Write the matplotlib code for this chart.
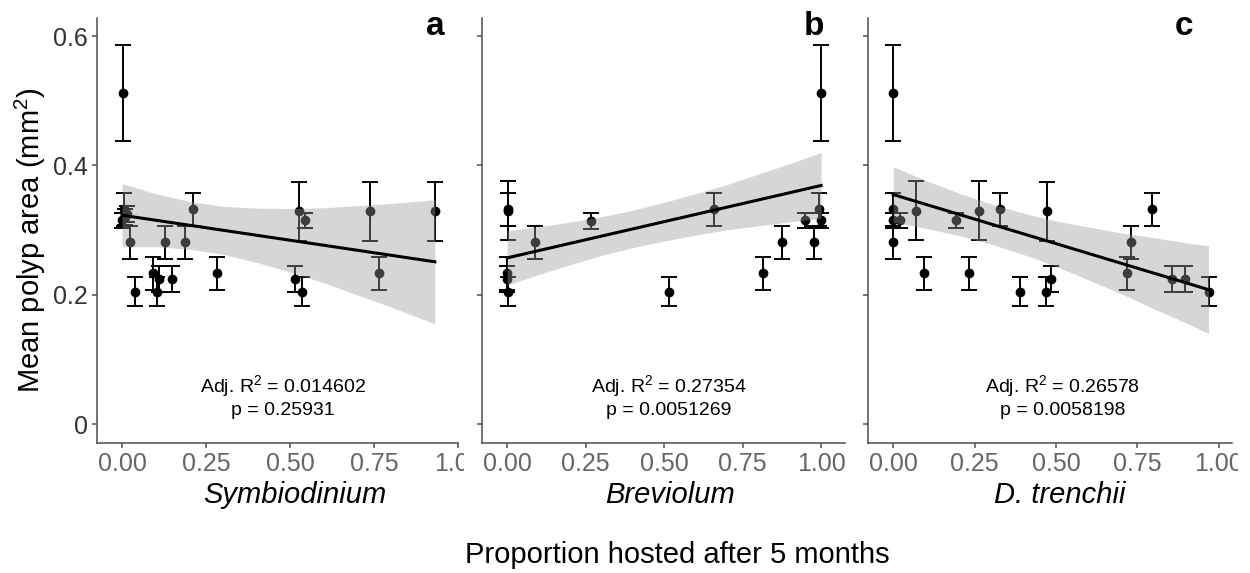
import numpy as np
import matplotlib
matplotlib.use("Agg")
import matplotlib.pyplot as plt
from matplotlib.transforms import Bbox

plt.rcParams['font.family'] = ['Liberation Sans', 'DejaVu Sans']
plt.rcParams['mathtext.fontset'] = 'custom'
plt.rcParams['mathtext.rm'] = 'Liberation Sans'
plt.rcParams['mathtext.it'] = 'Liberation Sans:italic'

# ---- panel a: Symbiodinium ----
x_a = [0.002, 0.005, 0.010, 0.000, 0.015, 0.024, 0.039, 0.091, 0.104, 0.110, 0.127,
       0.148, 0.187, 0.212, 0.283, 0.515, 0.528, 0.535, 0.544, 0.737, 0.766, 0.931]
y_a = [0.512, 0.332, 0.320, 0.315, 0.325, 0.281, 0.205, 0.233, 0.205, 0.225, 0.281,
       0.225, 0.281, 0.332, 0.233, 0.225, 0.329, 0.205, 0.315, 0.329, 0.233, 0.329]
e_a = [0.074, 0.025, 0.012, 0.012, 0.012, 0.026, 0.022, 0.026, 0.022, 0.020, 0.026,
       0.020, 0.026, 0.025, 0.026, 0.020, 0.046, 0.022, 0.012, 0.046, 0.026, 0.046]
fit_a = (0.323, -0.0774)
band_x_a = [0, 0.1, 0.2, 0.3, 0.4, 0.5, 0.6, 0.7, 0.8, 0.931]
band_hw_a = [0.049, 0.041, 0.037, 0.037, 0.042, 0.049, 0.058, 0.069, 0.080, 0.096]

# ---- panel b: Breviolum ----
x_b = [0.002, 0.002, 0.000, 0.000, 0.002, 0.088, 0.266, 0.514, 0.658, 0.814, 0.874,
       0.949, 0.978, 0.994, 0.999, 0.999]
y_b = [0.330, 0.332, 0.233, 0.225, 0.205, 0.281, 0.314, 0.205, 0.332, 0.233, 0.281,
       0.315, 0.281, 0.332, 0.315, 0.512]
e_b = [0.046, 0.025, 0.026, 0.020, 0.022, 0.026, 0.012, 0.022, 0.025, 0.026, 0.026,
       0.012, 0.026, 0.025, 0.012, 0.074]
fit_b = (0.257, 0.112)
band_x_b = [0, 0.1, 0.2, 0.3, 0.4, 0.5, 0.6, 0.7, 0.8, 0.9, 1.0]
band_hw_b = [0.042, 0.037, 0.033, 0.030, 0.029, 0.030, 0.032, 0.035, 0.040, 0.045, 0.051]

# ---- panel c: D. trenchii ----
x_c = [0.000, 0.000, 0.000, 0.022, 0.000, 0.071, 0.096, 0.194, 0.232, 0.263, 0.329,
       0.388, 0.468, 0.473, 0.486, 0.717, 0.729, 0.794, 0.857, 0.896, 0.968]
y_c = [0.512, 0.332, 0.315, 0.315, 0.281, 0.330, 0.233, 0.315, 0.233, 0.330, 0.332,
       0.205, 0.205, 0.329, 0.225, 0.233, 0.281, 0.332, 0.225, 0.225, 0.205]
e_c = [0.074, 0.025, 0.012, 0.012, 0.026, 0.046, 0.026, 0.012, 0.026, 0.046, 0.025,
       0.022, 0.022, 0.046, 0.020, 0.026, 0.026, 0.025, 0.020, 0.020, 0.022]
fit_c = (0.355, -0.152)
band_x_c = [0, 0.1, 0.2, 0.3, 0.4, 0.5, 0.6, 0.7, 0.8, 0.9, 0.968]
band_hw_c = [0.043, 0.037, 0.033, 0.031, 0.032, 0.035, 0.041, 0.047, 0.055, 0.062, 0.068]

species = ['Symbiodinium', 'Breviolum', 'D. trenchii']
panel_letters = ['a', 'b', 'c']
adj_r2 = ['0.014602', '0.27354', '0.26578']
p_vals = ['0.25931', '0.0051269', '0.0058198']
x_ticks = [0, 0.25, 0.5, 0.75, 1.0]
x_ticklabels = ['0.00', '0.25', '0.50', '0.75', '1.00']
y_ticks = [0, 0.2, 0.4, 0.6]
y_ticklabels = ['0', '0.2', '0.4', '0.6']

W, H = 1250, 573
fig = plt.figure(figsize=(W / 100, H / 100), dpi=100)

AX_TOP, AX_BOTTOM = 18, 443
panels_px = [(97, 458), (482, 845), (868, 1232)]
xlims = [(-0.0744, 1.0), (-0.080, 1.076), (-0.077, 1.040)]
stat_x = [0.48, 0.516, 0.52]
letter_px = [435, 814, 1184]
species_px = [295, 670, 1060]
# the last tick label of a and c is cut off in the original
clip_right = [464, 850, 1238]

data = [(x_a, y_a, e_a, fit_a, band_x_a, band_hw_a),
        (x_b, y_b, e_b, fit_b, band_x_b, band_hw_b),
        (x_c, y_c, e_c, fit_c, band_x_c, band_hw_c)]

for i, (x, y, e, fit, bx, bhw) in enumerate(data):
    left, right = panels_px[i]
    ax = fig.add_axes([left / W, 1 - AX_BOTTOM / H, (right - left) / W, (AX_BOTTOM - AX_TOP) / H])

    ax.errorbar(x, y, yerr=e, fmt='o', color='black', ms=6, elinewidth=1.4,
                capsize=6, capthick=1.4, zorder=2)
    bx = np.array(bx)
    line = fit[0] + fit[1] * bx
    hw = np.array(bhw)
    # grey60 at alpha 0.4 drawn over the points, as geom_smooth does
    ax.fill_between(bx, line - hw, line + hw, color='#999999', alpha=0.4, lw=0, zorder=3)
    ax.plot(bx, line, color='black', lw=2.2, zorder=4)

    ax.text(stat_x[i], 0.049, 'Adj. R$^2$ = ' + adj_r2[i], ha='center', va='baseline', fontsize=14)
    ax.text(stat_x[i], 0.014, 'p = ' + p_vals[i], ha='center', va='baseline', fontsize=14)

    ax.set_xlim(*xlims[i])
    ax.set_ylim(-0.0293, 0.628)
    ax.set_xticks(x_ticks)
    ax.set_xticklabels(x_ticklabels)
    ax.set_yticks(y_ticks)
    ax.set_yticklabels(y_ticklabels if i == 0 else [])

    for s in ['top', 'right']:
        ax.spines[s].set_visible(False)
    for s in ['left', 'bottom']:
        ax.spines[s].set_color('#4d4d4d')
        ax.spines[s].set_linewidth(1.1)
    ax.tick_params(direction='out', length=3.6, width=1.1, color='#4d4d4d', labelsize=18, pad=3)
    ax.tick_params(axis='x', labelcolor='#666666')
    ax.tick_params(axis='y', labelcolor='#333333')

    fig.text(letter_px[i] / W, 1 - 35 / H, panel_letters[i], ha='center', va='baseline',
             fontsize=24, fontweight='bold')
    fig.text(species_px[i] / W, 1 - 503 / H, species[i], ha='center', va='baseline',
             fontsize=21, style='italic')

    clip = Bbox.from_extents(0, 0, clip_right[i], H)
    for lab in ax.get_xticklabels():
        lab.set_clip_box(clip)
        lab.set_clip_on(True)

fig.text(30 / W, 1 - 240 / H, 'Mean polyp area (mm$^2$)', rotation=90, ha='center', va='center',
         fontsize=21)
fig.text(677 / W, 1 - 563 / H, 'Proportion hosted after 5 months', ha='center', va='baseline',
         fontsize=21)

fig.savefig('out.png', dpi=100)
